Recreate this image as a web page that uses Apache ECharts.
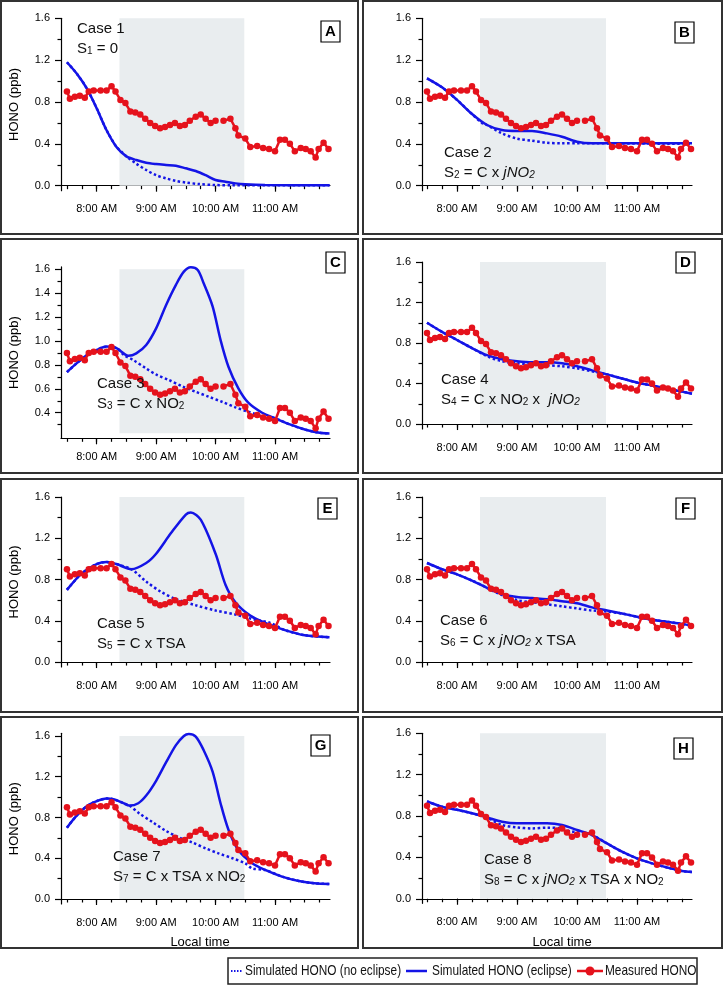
<!DOCTYPE html>
<html><head><meta charset="utf-8">
<script src="https://cdn.jsdelivr.net/npm/echarts@6/dist/echarts.min.js"></script>
<style>html,body{margin:0;padding:0;background:#fff}#c{width:724px;height:990px}</style>
</head><body><div id="c"></div>
<script>
// ---- DATA (time = minutes after midnight, local time) ----
const xTickMajor = [480, 540, 600, 660];
const xTickMinor = [450,465,480,495,510,525,540,555,570,585,600,615,630,645,660,675,690,705];
const eclipseStart = 503, eclipseEnd = 629;

const measTime = [450,453,458,463,468,472,477,484,490,495,499,504,509,514,519,524,529,534,539,544,549,554,559,564,569,574,580,585,590,595,600,602,608,615,620,623,630,635,642,648,654,660,665,670,675,680,686,691,696,701,704,709,714];
const measHONO = [0.90,0.83,0.85,0.86,0.84,0.90,0.91,0.91,0.91,0.95,0.90,0.82,0.79,0.71,0.70,0.68,0.64,0.60,0.57,0.55,0.56,0.58,0.60,0.57,0.58,0.62,0.66,0.68,0.64,0.60,0.62,null,0.62,0.64,0.55,0.48,0.45,0.37,0.38,0.36,0.35,0.33,0.44,0.44,0.40,0.33,0.36,0.35,0.33,0.27,0.35,0.41,0.35];

const c1Time = [450,460,470,480,490,500,510,520,530,540,550,560,570,580,590,600,610,620,630,650,715];
const c1Ecl  = [1.18,1.07,0.93,0.74,0.53,0.37,0.28,0.245,0.22,0.207,0.198,0.19,0.166,0.14,0.10,0.054,0.038,0.022,0.013,0.006,0.003];
const c1NoTime = [450,460,470,480,490,500,505,510,520,530,540,550,560,570,583,600,617,715];
const c1NoEcl  = [1.18,1.07,0.93,0.74,0.53,0.37,0.325,0.28,0.21,0.15,0.10,0.07,0.045,0.03,0.016,0.006,0.003,0.003];

const c2Time = [450,465,480,495,510,525,540,555,570,585,600,615,630,715];
const c2Ecl  = [1.026,0.94,0.82,0.685,0.58,0.532,0.523,0.523,0.50,0.468,0.42,0.405,0.405,0.405];
const c2NoTime = [450,465,480,495,505,510,525,540,555,570,585,600,715];
const c2NoEcl  = [1.026,0.94,0.82,0.685,0.60,0.58,0.50,0.45,0.43,0.41,0.405,0.405,0.40];

const c3Time = [450,460,470,480,490,500,512,520,530,540,550,560,568,575,582,588,597,605,613,623,633,647,660,675,690,705,715];
const c3Ecl  = [0.74,0.815,0.88,0.925,0.953,0.94,0.877,0.897,0.967,1.106,1.30,1.47,1.58,1.617,1.594,1.483,1.29,1.01,0.785,0.604,0.484,0.40,0.353,0.302,0.26,0.232,0.227];
const c3NoTime = [450,460,470,480,490,500,508,517,530,540,553,567,580,593,607,620,633,647,660,675,690,705,715];
const c3NoEcl  = [0.74,0.815,0.88,0.925,0.953,0.94,0.88,0.84,0.77,0.72,0.673,0.618,0.575,0.534,0.49,0.445,0.408,0.372,0.353,0.302,0.26,0.232,0.227];

const c4Time = [450,465,480,495,510,525,540,555,570,585,600,615,630,645,660,675,690,705,715];
const c4Ecl  = [1.00,0.91,0.83,0.75,0.68,0.64,0.62,0.61,0.61,0.60,0.57,0.53,0.49,0.45,0.41,0.38,0.35,0.32,0.30];
const c4NoTime = [450,465,480,495,510,525,540,555,570,585,600,615,630,645,660,675,690,705,715];
const c4NoEcl  = [1.00,0.91,0.83,0.75,0.67,0.62,0.60,0.59,0.58,0.57,0.55,0.52,0.49,0.45,0.41,0.38,0.35,0.32,0.30];

const c5Time = [450,465,480,490,500,515,530,540,555,570,575,585,600,610,620,635,650,670,690,715];
const c5Ecl  = [0.70,0.86,0.95,0.97,0.95,0.90,0.96,1.05,1.25,1.43,1.45,1.38,1.05,0.75,0.58,0.45,0.38,0.31,0.26,0.24];
const c5NoTime = [450,465,480,490,500,515,530,545,560,580,600,620,640,655,670,690,715];
const c5NoEcl  = [0.70,0.86,0.95,0.97,0.95,0.90,0.78,0.68,0.61,0.55,0.50,0.46,0.41,0.38,0.31,0.26,0.24];

const c6Time = [450,465,480,495,510,525,540,555,570,585,600,615,630,645,660,675,690,705,715];
const c6Ecl  = [0.96,0.90,0.85,0.79,0.72,0.66,0.63,0.62,0.61,0.59,0.57,0.53,0.50,0.47,0.44,0.41,0.39,0.37,0.35];
const c6NoTime = [450,465,480,495,510,520,540,555,570,585,600,615,630,645,660,675,690,705,715];
const c6NoEcl  = [0.96,0.90,0.85,0.79,0.72,0.67,0.60,0.58,0.56,0.54,0.52,0.50,0.49,0.47,0.44,0.41,0.39,0.37,0.35];

const c7Time = [450,460,470,480,490,498,507,513,522,530,540,550,560,568,573,580,588,597,605,613,623,637,650,667,684,700,715];
const c7Ecl  = [0.70,0.82,0.91,0.96,0.986,0.976,0.94,0.917,0.94,1.015,1.16,1.34,1.51,1.60,1.62,1.594,1.46,1.25,0.94,0.68,0.48,0.35,0.285,0.22,0.177,0.154,0.147];
const c7NoTime = [450,460,470,480,490,498,507,513,523,537,550,563,577,590,603,617,630,637,650,667,684,700,715];
const c7NoEcl  = [0.70,0.82,0.91,0.96,0.986,0.976,0.94,0.917,0.84,0.75,0.668,0.605,0.553,0.497,0.448,0.40,0.35,0.30,0.285,0.22,0.177,0.154,0.147];

const c8Time = [450,465,480,495,510,525,540,555,570,585,600,615,630,645,660,675,690,705,715];
const c8Ecl  = [0.942,0.89,0.86,0.826,0.787,0.745,0.729,0.729,0.729,0.713,0.665,0.616,0.535,0.455,0.39,0.342,0.303,0.268,0.258];
const c8NoTime = [450,465,480,495,510,515,525,540,555,570,585,595,600,615,630,645,660,675,690,705,715];
const c8NoEcl  = [0.942,0.89,0.86,0.826,0.787,0.76,0.713,0.69,0.68,0.687,0.68,0.648,0.648,0.616,0.535,0.455,0.39,0.342,0.303,0.268,0.258];

const yLabelsStd = [0, 0.4, 0.8, 1.2, 1.6];
const yMinorStd = [0.2, 0.6, 1.0, 1.4];
const yLabelsC = [0.4, 0.6, 0.8, 1.0, 1.2, 1.4, 1.6];
const yMinorC = [0.3, 0.5, 0.7, 0.9, 1.1, 1.3, 1.5];
const legendNames = ['Simulated HONO (no eclipse)', 'Simulated HONO (eclipse)', 'Measured HONO'];

// ---- LAYOUT ----
const BLUE = '#1414e6', RED = '#e5121c', SHADE = '#e9edef';
const colL = {left: 61, width: 269, xMin: 444, xMax: 715.5};
const colR = {left: 422, width: 270, xMin: 445, xMax: 715};
const panels = [
  {L:'A', col:colL, top:18.3, bot:190.7, yMin:-0.048, yMax:1.6, shadeMin:0, lab:yLabelsStd, minor:yMinorStd, t:c1Time, e:c1Ecl, nt:c1NoTime, n:c1NoEcl, yName:true,
   box:[321,21], txt:[77,29], s:'S{sub|1} = 0'},
  {L:'B', col:colR, top:18.3, bot:190.7, yMin:-0.048, yMax:1.6, shadeMin:0, lab:yLabelsStd, minor:yMinorStd, t:c2Time, e:c2Ecl, nt:c2NoTime, n:c2NoEcl,
   box:[675,22], txt:[444,153], s:'S{sub|2} = C x {it|jNO}{itsub|2}'},
  {L:'C', col:colL, top:266.9, bot:438.3, yMin:0.186, yMax:1.62, shadeMin:0.228, lab:yLabelsC, minor:yMinorC, t:c3Time, e:c3Ecl, nt:c3NoTime, n:c3NoEcl, yName:true,
   box:[326,252], txt:[97,384], s:'S{sub|3} = C x NO{sub|2}'},
  {L:'D', col:colR, top:262, bot:429, yMin:-0.049, yMax:1.6, shadeMin:0, lab:yLabelsStd, minor:yMinorStd, t:c4Time, e:c4Ecl, nt:c4NoTime, n:c4NoEcl,
   box:[676,252], txt:[441,380], s:'S{sub|4} = C x NO{sub|2} x  {it|jNO}{itsub|2}'},
  {L:'E', col:colL, top:497, bot:667, yMin:-0.048, yMax:1.6, shadeMin:0, lab:yLabelsStd, minor:yMinorStd, t:c5Time, e:c5Ecl, nt:c5NoTime, n:c5NoEcl, yName:true,
   box:[318,498], txt:[97,624], s:'S{sub|5} = C x TSA'},
  {L:'F', col:colR, top:497, bot:667, yMin:-0.048, yMax:1.6, shadeMin:0, lab:yLabelsStd, minor:yMinorStd, t:c6Time, e:c6Ecl, nt:c6NoTime, n:c6NoEcl,
   box:[676,498], txt:[440,621], s:'S{sub|6} = C x {it|jNO}{itsub|2} x TSA'},
  {L:'G', col:colL, top:733.3, bot:904, yMin:-0.049, yMax:1.626, shadeMin:0, lab:yLabelsStd, minor:yMinorStd, t:c7Time, e:c7Ecl, nt:c7NoTime, n:c7NoEcl, yName:true,
   box:[311,735], txt:[113,857], s:'S{sub|7} = C x TSA x NO{sub|2}', xName:[200,942]},
  {L:'H', col:colR, top:733.3, bot:903.3, yMin:-0.044, yMax:1.6, shadeMin:0, lab:yLabelsStd, minor:yMinorStd, t:c8Time, e:c8Ecl, nt:c8NoTime, n:c8NoEcl,
   box:[674,738], txt:[484,860], s:'S{sub|8} = C x {it|jNO}{itsub|2} x TSA x NO{sub|2}', xName:[562,942]}
];
const frames = [[1,1,357,233],[363,1,359,233],[1,239,357,234],[363,239,359,234],[1,479,357,233],[363,479,359,233],[1,717,357,231],[363,717,359,231]];

const FONT = 'Liberation Sans, Arial, sans-serif';
const grids = [], xAxes = [], yAxes = [], series = [], graphics = [];
const zip = (a, b) => a.map((v, i) => [v, b[i]]);

panels.forEach((p, i) => {
  grids.push({left: p.col.left, width: p.col.width, top: p.top, height: p.bot - p.top});
  const axLine = {show: true, lineStyle: {color: '#000', width: 1.2}};
  xAxes.push({type: 'value', gridIndex: i, min: p.col.xMin, max: p.col.xMax, position: 'bottom',
    axisLine: axLine, splitLine: {show: false},
    axisTick: {show: true, inside: false, length: 6, customValues: xTickMajor, lineStyle: {color: '#000', width: 1.2}},
    axisLabel: {show: true, customValues: xTickMajor, margin: 13, fontSize: 11, color: '#000', fontFamily: FONT,
      formatter: v => Math.round(v / 60) + ':00 AM'}});
  xAxes.push({type: 'value', gridIndex: i, min: p.col.xMin, max: p.col.xMax, position: 'bottom',
    axisLine: {show: false}, splitLine: {show: false}, axisLabel: {show: false},
    axisTick: {show: true, length: 3.5, customValues: xTickMinor, lineStyle: {color: '#000', width: 1.2}}});
  yAxes.push({type: 'value', gridIndex: i, min: p.yMin, max: p.yMax, position: 'left',
    axisLine: axLine, splitLine: {show: false},
    axisTick: {show: true, length: 6, customValues: p.lab, lineStyle: {color: '#000', width: 1.2}},
    axisLabel: {show: true, customValues: p.lab, margin: 11, fontSize: 11, color: '#000', fontFamily: FONT,
      formatter: v => v.toFixed(1)},
    name: p.yName ? 'HONO (ppb)' : '', nameLocation: 'middle', nameGap: 40, nameRotate: 90,
    nameTextStyle: {fontSize: 13, color: '#000', fontFamily: FONT}});
  yAxes.push({type: 'value', gridIndex: i, min: p.yMin, max: p.yMax, position: 'left',
    axisLine: {show: false}, splitLine: {show: false}, axisLabel: {show: false},
    axisTick: {show: true, length: 3.5, customValues: p.minor, lineStyle: {color: '#000', width: 1.2}}});
  const xi = 2 * i, yi = 2 * i;
  series.push({type: 'line', name: legendNames[0], xAxisIndex: xi, yAxisIndex: yi,
    data: zip(p.nt, p.n), smooth: 0.3, showSymbol: false, symbol: 'none', z: 3,
    lineStyle: {color: BLUE, width: 2.5, type: [2.5, 2.5]}, itemStyle: {color: BLUE},
    markArea: {silent: true, itemStyle: {color: SHADE}, z: 1,
      data: [[{coord: [eclipseStart, p.shadeMin]}, {coord: [eclipseEnd, 1.6]}]]}});
  series.push({type: 'line', name: legendNames[1], xAxisIndex: xi, yAxisIndex: yi,
    data: zip(p.t, p.e), smooth: 0.3, showSymbol: false, symbol: 'none', z: 4,
    lineStyle: {color: BLUE, width: 2.5}, itemStyle: {color: BLUE}});
  series.push({type: 'line', name: legendNames[2], xAxisIndex: xi, yAxisIndex: yi,
    data: zip(measTime, measHONO), connectNulls: false, symbol: 'circle', symbolSize: 6.5, showSymbol: true, z: 5,
    lineStyle: {color: RED, width: 2.5}, itemStyle: {color: RED}});

  const f = frames[i];
  graphics.push({type: 'rect', shape: {x: f[0], y: f[1], width: f[2], height: f[3]}, style: {fill: null, stroke: '#333', lineWidth: 2}, silent: true});
  graphics.push({type: 'rect', shape: {x: p.box[0], y: p.box[1], width: 19, height: 21}, style: {fill: '#fff', stroke: '#000', lineWidth: 1.2}, z: 10, silent: true});
  graphics.push({type: 'text', x: p.box[0] + 9.5, y: p.box[1] + 11, z: 11, silent: true,
    style: {text: p.L, fontSize: 15, fontWeight: 'bold', fontFamily: FONT, fill: '#000', align: 'center', verticalAlign: 'middle'}});
  const rich = {
    sub: {fontSize: 10, verticalAlign: 'bottom', padding: [6, 0, 0, 0], fontFamily: FONT, fill: '#111'},
    it: {fontSize: 15, fontStyle: 'italic', fontFamily: FONT, fill: '#111'},
    itsub: {fontSize: 10, fontStyle: 'italic', padding: [6, 0, 0, 0], fontFamily: FONT, fill: '#111'}
  };
  graphics.push({type: 'text', x: p.txt[0], y: p.txt[1], z: 11, silent: true,
    style: {text: 'Case ' + (i + 1), fontSize: 15, fontFamily: FONT, fill: '#111', verticalAlign: 'middle'}});
  graphics.push({type: 'text', x: p.txt[0], y: p.txt[1] + 19.5, z: 11, silent: true,
    style: {text: p.s, rich: rich, fontSize: 15, fontFamily: FONT, fill: '#111', verticalAlign: 'middle'}});
  if (p.xName) graphics.push({type: 'text', x: p.xName[0], y: p.xName[1], z: 11, silent: true,
    style: {text: 'Local time', fontSize: 13, fontFamily: FONT, fill: '#000', align: 'center', verticalAlign: 'middle'}});
});

// ---- legend (drawn as graphics to match the boxed Igor-style legend) ----
const LY = 971;
graphics.push({type: 'rect', shape: {x: 228, y: 958, width: 469, height: 26}, style: {fill: '#fff', stroke: '#222', lineWidth: 1.5}, silent: true});
graphics.push({type: 'line', shape: {x1: 231, y1: LY, x2: 243, y2: LY}, style: {stroke: BLUE, lineWidth: 2, lineDash: [1.5, 1.5]}, silent: true});
graphics.push({type: 'line', shape: {x1: 406, y1: LY, x2: 427, y2: LY}, style: {stroke: BLUE, lineWidth: 2.5}, silent: true});
graphics.push({type: 'line', shape: {x1: 577, y1: LY, x2: 603, y2: LY}, style: {stroke: RED, lineWidth: 2.5}, silent: true});
graphics.push({type: 'circle', shape: {cx: 590, cy: LY, r: 4.5}, style: {fill: RED}, silent: true});
[[245, legendNames[0]], [432, legendNames[1]], [605, legendNames[2]]].forEach(([x, t]) => {
  graphics.push({type: 'text', x: x, y: LY, scaleX: 0.79, silent: true,
    style: {text: t, fontSize: 15, fontFamily: FONT, fill: '#111', verticalAlign: 'middle'}});
});

const chart = echarts.init(document.getElementById('c'), null, {renderer: 'canvas'});
chart.setOption({
  animation: false,
  backgroundColor: '#fff',
  grid: grids, xAxis: xAxes, yAxis: yAxes, series: series,
  graphic: graphics
});
</script></body></html>
